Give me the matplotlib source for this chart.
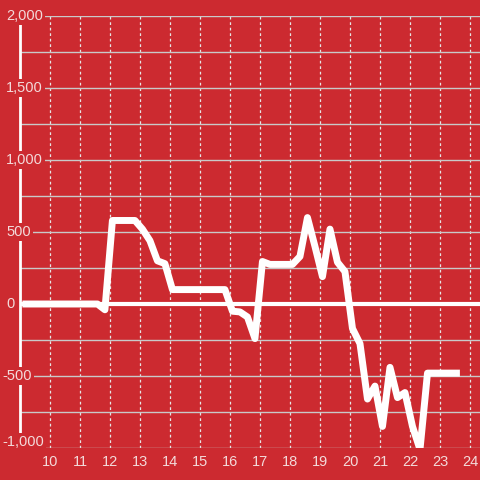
import matplotlib
matplotlib.use("Agg")
import matplotlib.pyplot as plt
from matplotlib.transforms import blended_transform_factory, offset_copy

# quarter-hour samples (hour of day) and values
times = [9.08, 9.33, 9.58, 9.83, 10.08, 10.33, 10.58, 10.83, 11.08, 11.33,
         11.58, 11.83, 12.08, 12.33, 12.58, 12.83, 13.08, 13.33, 13.58, 13.83,
         14.08, 14.33, 14.58, 14.83, 15.08, 15.33, 15.58, 15.83, 16.08, 16.33,
         16.58, 16.83, 17.08, 17.33, 17.58, 17.83, 18.08, 18.33, 18.58, 18.83,
         19.08, 19.33, 19.58, 19.83, 20.08, 20.33, 20.58, 20.83, 21.08, 21.33,
         21.58, 21.83, 22.08, 22.33, 22.58, 22.83, 23.08, 23.33, 23.66]
values = [0, 0, 0, 0, 0, 0, 0, 0, 0, 0,
          0, -40, 580, 580, 580, 580, 520, 440, 300, 280,
          100, 100, 100, 100, 100, 100, 100, 100, -50, -55,
          -90, -240, 295, 275, 275, 275, 275, 330, 600, 400,
          190, 520, 290, 225, -170, -275, -660, -570, -850, -440,
          -650, -615, -850, -1010, -480, -480, -480, -480, -480]

x_ticks = list(range(10, 25))
y_labels = [2000, 1500, 1000, 500, 0, -500, -1000]

bg = "#cc2a30"
txt = "#f3dada"

plt.rcParams["font.family"] = ["Liberation Sans", "DejaVu Sans"]

fig = plt.figure(figsize=(4.8, 4.8), dpi=100, facecolor=bg)
ax = fig.add_axes([20 / 480, 1 - 448 / 480, 1 - 20 / 480, 432 / 480])
ax.set_facecolor(bg)

ax.set_xlim(9, 24.33)
ax.set_ylim(-1000, 2000)

ax.set_xticks(x_ticks)
ax.set_yticks(range(-1000, 2001, 250))
ax.set_yticklabels([])
ax.tick_params(axis="both", length=0)
ax.tick_params(axis="x", colors=txt, labelsize=10.5, pad=5)

ax.grid(axis="y", color="#c9c9c9", linewidth=1.0, linestyle="-", zorder=0)
ax.grid(axis="x", color="#e6e6e6", linewidth=0.9, linestyle=(0, (2.2, 2.2)), zorder=0)
ax.set_axisbelow(True)

for s in ["top", "right", "bottom"]:
    ax.spines[s].set_visible(False)
ax.spines["left"].set_color("white")
ax.spines["left"].set_linewidth(2.0)

ax.axhline(0, color="white", linewidth=3.0, zorder=2)
ax.plot(times, values, color="white", linewidth=5.0,
        solid_joinstyle="round", solid_capstyle="butt", zorder=3)

tr = blended_transform_factory(fig.transFigure, ax.transData)
for v in y_labels:
    lab = f"{v:,}"
    x0 = 2 if v < 0 else 6
    t = tr
    if v == y_labels[-1]:
        # bottom label sits a little above its gridline
        t = offset_copy(tr, fig=fig, y=6, units="dots")
    ax.text(x0 / 480, v, lab, transform=t, ha="left", va="center",
            color=txt, fontsize=10.5, zorder=5, clip_on=False,
            bbox=dict(facecolor=bg, edgecolor="none", pad=1.5))

fig.savefig("out.png", dpi=100, facecolor=bg)
